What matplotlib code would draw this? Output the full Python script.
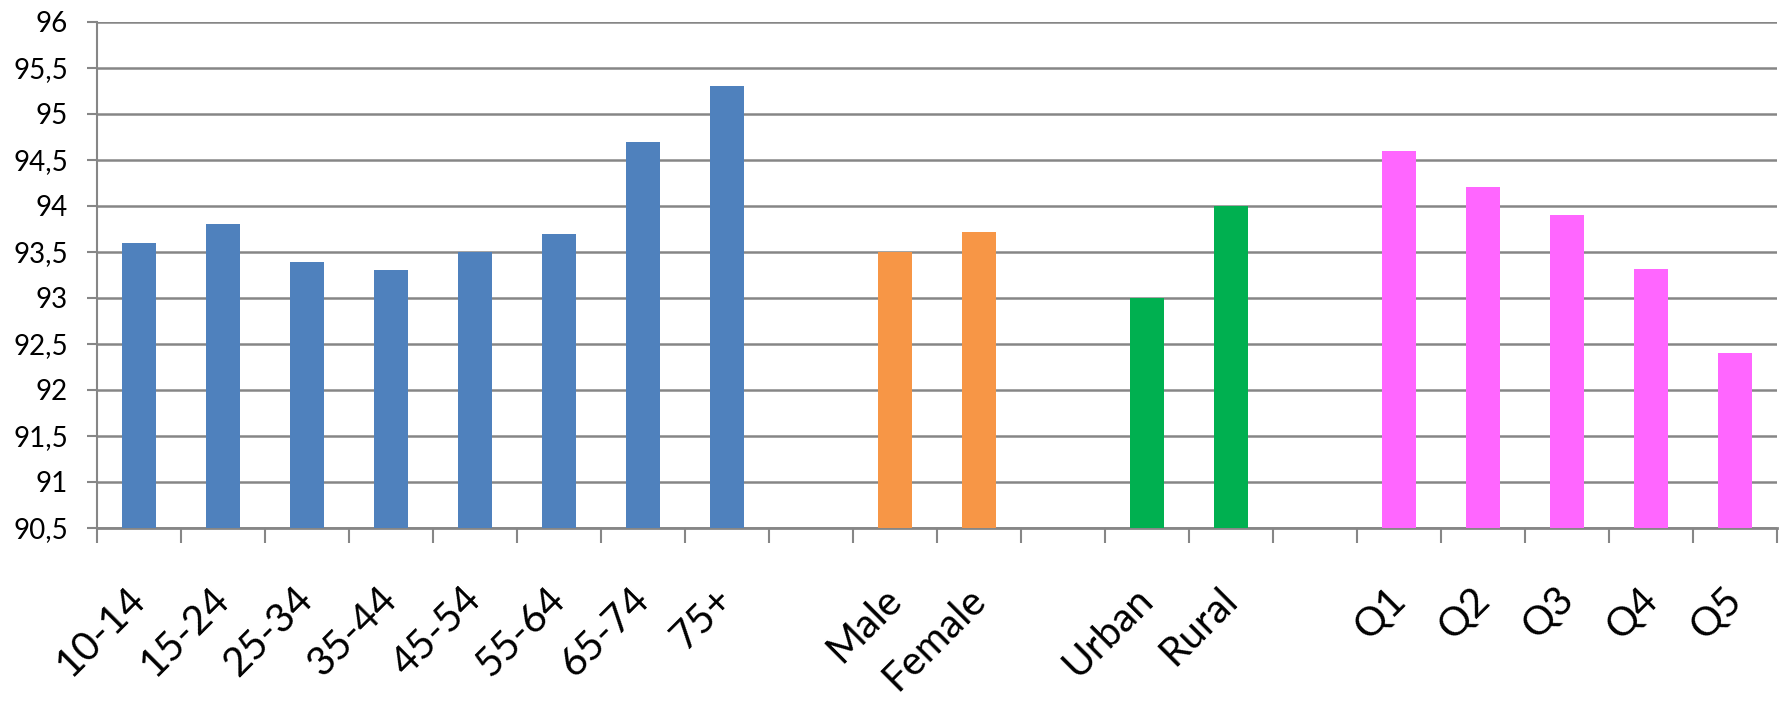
import matplotlib
matplotlib.use("Agg")
import matplotlib.pyplot as plt
import numpy as np
from matplotlib.ticker import FixedLocator, FuncFormatter

categories = ["10-14", "15-24", "25-34", "35-44", "45-54", "55-64", "65-74", "75+", "",
              "Male", "Female", "",
              "Urban", "Rural", "",
              "Q1", "Q2", "Q3", "Q4", "Q5"]
values = [93.6, 93.8, 93.39, 93.3, 93.5, 93.7, 94.7, 95.3, np.nan,
          93.5, 93.72, np.nan,
          93.0, 94.0, np.nan,
          94.6, 94.21, 93.9, 93.31, 92.4]
groups = ["age"] * 8 + [None] + ["sex"] * 2 + [None] + ["area"] * 2 + [None] + ["quint"] * 5
group_colors = {"age": "#4F81BD", "sex": "#F79646", "area": "#00B050", "quint": "#FF66FF", None: "none"}
y_ticks = [90.5, 91, 91.5, 92, 92.5, 93, 93.5, 94, 94.5, 95, 95.5, 96]

plt.rcParams['font.family'] = ['Lato', 'DejaVu Sans']

fig = plt.figure(figsize=(17.89, 7.06), dpi=100)
ax = fig.add_axes([97 / 1789, 1 - 528 / 706, (1777 - 97) / 1789, (528 - 22) / 706])

x = np.arange(len(categories))
ymin = 90.5
heights = [v - ymin if not np.isnan(v) else 0 for v in values]
ax.bar(x, heights, bottom=ymin, width=0.4, color=[group_colors[g] for g in groups], zorder=3)

ax.set_ylim(90.5, 96)
ax.set_xlim(-0.5, len(categories) - 0.5)
ax.yaxis.set_major_locator(FixedLocator(y_ticks))
ax.yaxis.set_major_formatter(FuncFormatter(lambda v, p: ("%g" % v).replace(".", ",")))
ax.grid(axis="y", color="#868686", linewidth=1.8, zorder=0)

for s in ["top", "right"]:
    ax.spines[s].set_visible(False)
ax.spines["left"].set_color("#868686")
ax.spines["bottom"].set_color("#868686")
ax.spines["left"].set_linewidth(1.5)
ax.spines["bottom"].set_linewidth(2)

ax.tick_params(axis="y", length=7, width=1.5, color="#868686", labelsize=20, pad=14)
# category boundary ticks
ax.set_xticks(np.arange(-0.5, len(categories) + 0.5, 1.0))
ax.set_xticklabels([])
ax.tick_params(axis="x", which="major", length=11, width=1.5, color="#868686")
ax.set_xticks(x, minor=True)
ax.set_xticklabels(categories, minor=True, rotation=45, ha="right", va="center",
                   rotation_mode="anchor", fontsize=29)
ax.tick_params(axis="x", which="minor", length=0, pad=47)

fig.savefig("out.png", dpi=100, facecolor="white")
